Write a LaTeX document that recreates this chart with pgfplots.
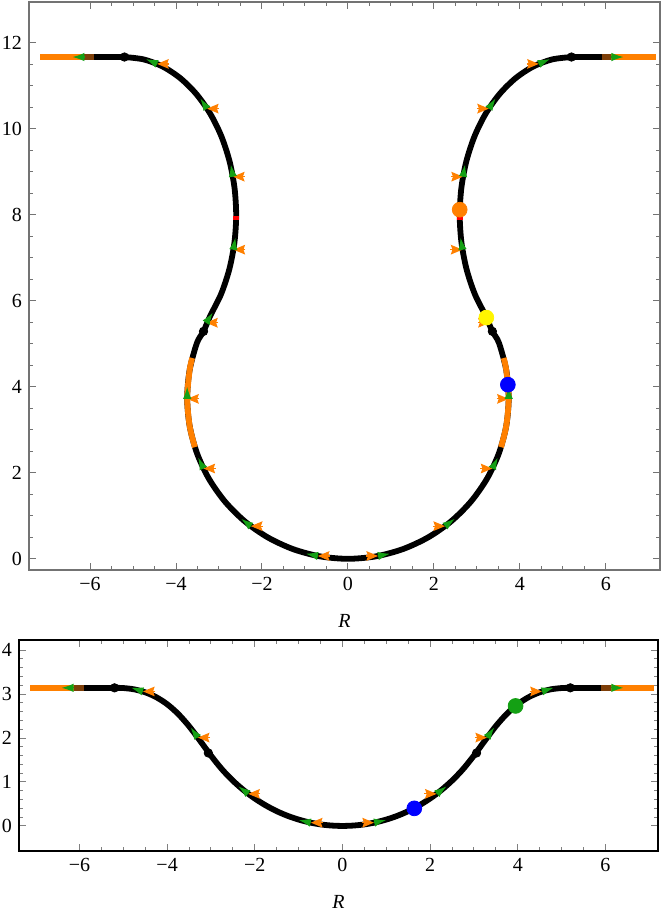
\documentclass[border=0pt]{standalone}
\usepackage{fontspec}
\setmainfont{Liberation Serif}
\usepackage{pgfplots}
\pgfplotsset{compat=1.18}
\usepackage{pgfplotstable}
\usetikzlibrary{arrows.meta}

\definecolor{mmaorange}{RGB}{255,128,0}
\definecolor{mmagreen}{RGB}{20,160,20}
\definecolor{mmabrown}{RGB}{125,62,8}
\definecolor{mmablue}{RGB}{0,0,255}
\definecolor{mmayellow}{RGB}{255,245,0}

\pgfplotsset{
  panel/.style={
    scale only axis,
    axis line style={line width=0.6pt},
    major tick length=3.5pt,
    minor tick length=2pt,
    tick style={line width=0.5pt},
    xtick={-6,-4,-2,0,2,4,6},
    xticklabels={−6,−4,−2,0,2,4,6},
    minor x tick num=3,
    xlabel={\textit{R}},
    xlabel style={yshift=-5pt},
    tick label style={font=\fontsize{10}{12}\selectfont},
    label style={font=\fontsize{10}{12}\selectfont},
  },
  curve/.style={black, line width=2.9pt, smooth, line join=round},
  seg/.style={line width=2.9pt, smooth},
  garrow/.style={mmagreen, line width=0.6pt,
    quiver={u=\thisrow{u},v=\thisrow{v}},
    -{Latex[length=6pt,width=4.2pt]}},
  oarrow/.style={mmaorange, line width=0.6pt,
    quiver={u=\thisrow{u},v=\thisrow{v}},
    -{Stealth[length=5.8pt,width=4.8pt,inset=0.8pt]}},
}

\begin{document}

% top panel: tangent (green) and horizontal (orange) arrows
\pgfplotstableread{
x y u v
-6.13 11.67 -0.28 0
-4.44 11.51 -0.258 0.111
-3.28 10.47 -0.152 0.235
-2.676 8.888 -0.048 0.276
-2.664 7.19 0.044 0.276
-3.30 5.49 0.155 0.233
-3.74 3.72 0 0.28
-3.361 2.10 -0.123 0.252
-2.259 0.76 -0.223 0.169
-0.70 0.066 -0.275 0.052
0.70 0.066 0.275 0.052
2.259 0.76 0.223 0.169
3.361 2.10 0.123 0.252
3.74 3.72 0 0.28
3.30 5.49 -0.155 0.233
2.664 7.19 -0.044 0.276
2.676 8.888 0.048 0.276
3.28 10.47 0.152 0.235
4.44 11.51 0.258 0.111
6.13 11.67 0.28 0
}\topgreen

\pgfplotstableread{
x y u v
-4.16 11.51 -0.28 0
-3.00 10.47 -0.28 0
-2.396 8.888 -0.28 0
-2.384 7.19 -0.28 0
-3.02 5.49 -0.28 0
-3.46 3.72 -0.28 0
-3.081 2.10 -0.28 0
-1.979 0.76 -0.28 0
-0.42 0.066 -0.28 0
0.42 0.066 0.28 0
1.979 0.76 0.28 0
3.081 2.10 0.28 0
3.46 3.72 0.28 0
3.02 5.49 0.28 0
2.384 7.19 0.28 0
2.396 8.888 0.28 0
3.00 10.47 0.28 0
4.16 11.51 0.28 0
}\toporange

% bottom panel arrows
\pgfplotstableread{
x y u v
-6.13 3.1416 -0.28 0
-4.55 3.06 -0.267 0.084
-3.30 2.01 -0.162 0.229
-2.15 0.73 -0.223 0.169
-0.72 0.075 -0.274 0.057
0.72 0.075 0.274 0.057
2.15 0.73 0.223 0.169
3.30 2.01 0.162 0.229
4.55 3.06 0.267 0.084
6.13 3.1416 0.28 0
}\botgreen

\pgfplotstableread{
x y u v
-4.27 3.06 -0.28 0
-3.02 2.01 -0.28 0
-1.87 0.73 -0.28 0
-0.44 0.075 -0.28 0
0.44 0.075 0.28 0
1.87 0.73 0.28 0
3.02 2.01 0.28 0
4.27 3.06 0.28 0
}\botorange

\begin{tikzpicture}
\path[use as bounding box] (0,0) rectangle (331pt,460pt);

% ---------------- top panel ----------------
\begin{axis}[panel,
  at={(14.5pt,175pt)}, anchor=south west,
  width=315.5pt, height=284pt,
  xmin=-7.42, xmax=7.26, ymin=-0.26, ymax=12.95,
  ytick={0,2,4,6,8,10,12},
  yticklabels={0,2,4,6,8,10,12},
  minor y tick num=3,
  axis line style={black!55, line width=0.6pt},
  tick style={black!55, line width=0.5pt},
]
\addplot[curve] coordinates {
  (-5.2,11.67) (-4.749,11.614) (-4.311,11.449) (-3.900,11.178)
  (-3.529,10.811) (-3.208,10.359) (-2.948,9.835) (-2.757,9.255)
  (-2.640,8.637) (-2.6,8.0) (-2.640,7.363) (-2.757,6.745)
  (-2.948,6.165) (-3.208,5.641) (-3.36,5.29) (-3.514,5.019)
  (-3.683,4.389) (-3.74,3.74) (-3.683,3.091) (-3.514,2.461)
  (-3.239,1.870) (-2.865,1.336) (-2.404,0.875) (-1.870,0.501)
  (-1.279,0.226) (-0.649,0.057) (0,0)
  (0.649,0.057) (1.279,0.226) (1.870,0.501) (2.404,0.875)
  (2.865,1.336) (3.239,1.870) (3.514,2.461) (3.683,3.091)
  (3.74,3.74) (3.683,4.389) (3.514,5.019) (3.36,5.29)
  (3.208,5.641) (2.948,6.165) (2.757,6.745) (2.640,7.363)
  (2.6,8.0) (2.640,8.637) (2.757,9.255) (2.948,9.835)
  (3.208,10.359) (3.529,10.811) (3.900,11.178) (4.311,11.449)
  (4.749,11.614) (5.2,11.67)
};
\addplot[black, line width=2.9pt] coordinates {(-5.9,11.67) (-5.2,11.67)};
\addplot[black, line width=2.9pt] coordinates {(5.2,11.67) (5.9,11.67)};
% orange stretches
\addplot[seg, mmaorange] coordinates {
  (-3.561,2.597) (-3.683,3.091) (-3.74,3.74) (-3.683,4.389) (-3.623,4.670)};
\addplot[seg, mmaorange] coordinates {
  (3.561,2.597) (3.683,3.091) (3.74,3.74) (3.683,4.389) (3.623,4.670)};
\addplot[mmaorange, line width=2.9pt] coordinates {(-7.16,11.67) (-6.13,11.67)};
\addplot[mmaorange, line width=2.9pt] coordinates {(6.13,11.67) (7.16,11.67)};
\addplot[mmabrown, line width=2.9pt] coordinates {(-6.13,11.67) (-5.9,11.67)};
\addplot[mmabrown, line width=2.9pt] coordinates {(5.9,11.67) (6.13,11.67)};
\addplot[red, line width=2.9pt] coordinates {(-2.6,7.89) (-2.6,7.97)};
\addplot[red, line width=2.9pt] coordinates {(2.6,7.89) (2.6,7.97)};
% arrows
\addplot[oarrow] table[x=x,y=y] {\toporange};
\addplot[garrow] table[x=x,y=y] {\topgreen};
% points
\addplot[only marks, mark=*, mark size=2.1pt, black] coordinates {
  (-5.2,11.67) (5.2,11.67) (-3.36,5.29) (3.36,5.29)};
\addplot[only marks, mark=*, mark size=3.7pt, mmaorange, mark options={draw=mmaorange}] coordinates {(2.6,8.12)};
\addplot[only marks, mark=*, mark size=3.7pt, mmayellow, mark options={draw=mmayellow}] coordinates {(3.22,5.61)};
\addplot[only marks, mark=*, mark size=3.7pt, mmablue, mark options={draw=mmablue}] coordinates {(3.72,4.05)};
\end{axis}

% ---------------- bottom panel ----------------
\begin{axis}[panel,
  at={(9.5pt,34.5pt)}, anchor=south west,
  width=319.5pt, height=105.5pt,
  xmin=-7.38, xmax=7.2, ymin=-0.57, ymax=4.23,
  ytick={0,1,2,3,4},
  yticklabels={0,1,2,3,4},
  minor y tick num=4,
]
\addplot[curve] coordinates {
  (-5.2,3.1416) (-5.0,3.137) (-4.75,3.107) (-4.5,3.040) (-4.25,2.930)
  (-4.0,2.770) (-3.75,2.55) (-3.5,2.27) (-3.25,1.94) (-3.0,1.60)
  (-2.75,1.29) (-2.5,1.03) (-2.25,0.810) (-2.0,0.624) (-1.75,0.467)
  (-1.5,0.336) (-1.25,0.229) (-1.0,0.145) (-0.75,0.080) (-0.5,0.035)
  (-0.25,0.009) (0,0)
  (0.25,0.009) (0.5,0.035) (0.75,0.080) (1.0,0.145) (1.25,0.229)
  (1.5,0.336) (1.75,0.467) (2.0,0.624) (2.25,0.810) (2.5,1.03)
  (2.75,1.29) (3.0,1.60) (3.25,1.94) (3.5,2.27) (3.75,2.55)
  (4.0,2.770) (4.25,2.930) (4.5,3.040) (4.75,3.107) (5.0,3.137)
  (5.2,3.1416)
};
\addplot[black, line width=2.9pt] coordinates {(-5.9,3.1416) (-5.2,3.1416)};
\addplot[black, line width=2.9pt] coordinates {(5.2,3.1416) (5.9,3.1416)};
\addplot[mmaorange, line width=2.9pt] coordinates {(-7.12,3.1416) (-6.13,3.1416)};
\addplot[mmaorange, line width=2.9pt] coordinates {(6.13,3.1416) (7.12,3.1416)};
\addplot[mmabrown, line width=2.9pt] coordinates {(-6.13,3.1416) (-5.9,3.1416)};
\addplot[mmabrown, line width=2.9pt] coordinates {(5.9,3.1416) (6.13,3.1416)};
\addplot[oarrow] table[x=x,y=y] {\botorange};
\addplot[garrow] table[x=x,y=y] {\botgreen};
\addplot[only marks, mark=*, mark size=2.1pt, black] coordinates {
  (-5.2,3.1416) (5.2,3.1416) (-3.06,1.66) (3.06,1.66)};
\addplot[only marks, mark=*, mark size=3.7pt, mmablue, mark options={draw=mmablue}] coordinates {(1.64,0.40)};
\addplot[only marks, mark=*, mark size=3.7pt, mmagreen, mark options={draw=mmagreen}] coordinates {(3.95,2.73)};
\end{axis}
\end{tikzpicture}
\end{document}
